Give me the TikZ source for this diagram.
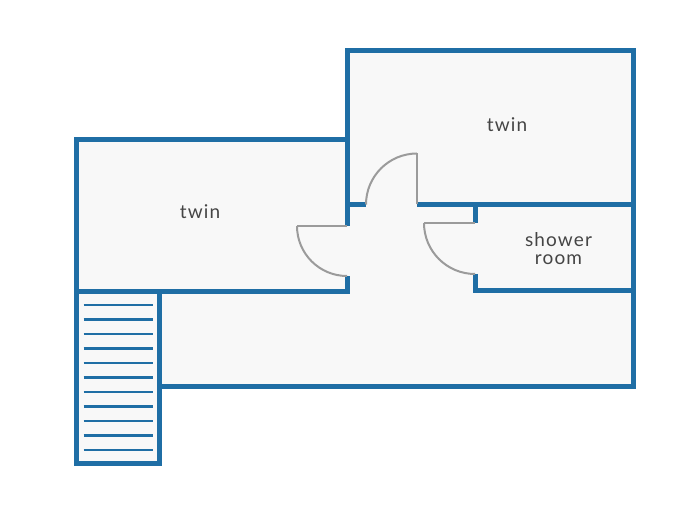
\documentclass[tikz,border=0pt]{standalone}
\usepackage{fontspec}
\setmainfont{Lato}
\newfontfamily\labelfont{Lato}[LetterSpace=6]
\usepackage{xcolor}
\usepackage{tikz}
\definecolor{wallBlue}{HTML}{1F6EA5}
\definecolor{doorGrey}{HTML}{9B9B9B}
\definecolor{floorGrey}{HTML}{F8F8F8}
\definecolor{labelGrey}{HTML}{454545}
\newcommand{\treadSpacing}{14.5}

\begin{document}
\begin{tikzpicture}[x=1pt,y=1pt,
	wall/.style={line width=5pt, draw=wallBlue},
	door/.style={line width=2.5pt, draw=doorGrey},
	swing/.style={line width=2pt, draw=doorGrey},
	tread/.style={line width=2.5pt, draw=wallBlue},
	roomlabel/.style={text=labelGrey, font=\labelfont\fontsize{19}{18}\selectfont, align=center, inner sep=0pt}]
	\useasboundingbox[fill=white] (0,0) rectangle (700,506);

	% floor
	\fill[floorGrey] (76.5,366.5) -- (347,366.5) -- (347,455.5) -- (633.5,455.5) -- (633.5,120) -- (159,120) -- (159,42.5) -- (76.5,42.5) -- cycle;

	% outer walls
	\draw[wall] (347,280) -- (347,455.5) -- (633.5,455.5) -- (633.5,120) -- (159,120) -- (159,42.5) -- (76.5,42.5) -- (76.5,366.5) -- (347,366.5);

	% inner walls
	\draw[wall] (347,229.5) -- (347,214.5) -- (76.5,214.5);
	\draw[wall] (159,214.5) -- (159,120);
	\draw[wall] (347,301.5) -- (366,301.5);
	\draw[wall] (417,301.5) -- (633.5,301.5);
	\draw[wall] (475,301.5) -- (475,283);
	\draw[wall] (475,232) -- (475,215.5) -- (633.5,215.5);

	% doors
	\draw[door] (347,280) -- (297,280);
	\draw[swing] (297,280) arc[start angle=180, end angle=270, radius=50pt];
	\draw[door] (417,301.5) -- (417,352.5);
	\draw[swing] (417,352.5) arc[start angle=90, end angle=180, radius=51pt];
	\draw[door] (475,283) -- (424,283);
	\draw[swing] (424,283) arc[start angle=180, end angle=270, radius=51pt];

	% stairs
	\foreach \i in {0,...,10}
		\draw[tread] (83.5,{201-\i*\treadSpacing}) -- (152.5,{201-\i*\treadSpacing});

	% labels
	\node[roomlabel, anchor=base] (twinLeft) at (200,287.7) {twin};
	\node[roomlabel, anchor=base] (twinUpper) at (507,374.3) {twin};
	\node[roomlabel, anchor=base] (showerRoom) at (558.5,241) {shower\\room};
\end{tikzpicture}
\end{document}
